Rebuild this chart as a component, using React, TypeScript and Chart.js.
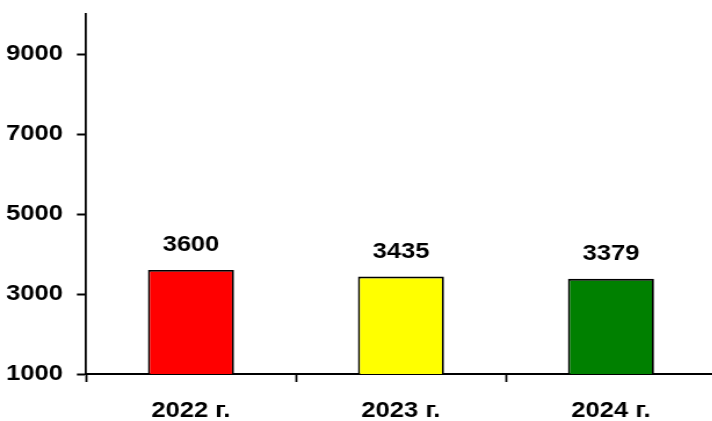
import React, { useEffect, useRef } from "react";
import { Chart, registerables } from "chart.js";
Chart.register(...registerables);

const categories = ["2022 г.", "2023 г.", "2024 г."];
const values = [3600, 3435, 3379];
const barColors = ["#FF0000", "#FFFF00", "#008000"];
const yTicks = [1000, 3000, 5000, 7000, 9000];
const yMin = 1000;
const yMax = 10000;

const SX = 1.16;
const FONT = "'Liberation Sans', Arial, sans-serif";
const FS = 22;
const W = 620;
const H = 421;

export default function App() {
  const ref = useRef<HTMLCanvasElement>(null);
  useEffect(() => {
    document.body.style.margin = "0";
    document.body.style.overflow = "hidden";
    const labelPlugin = {
      id: "valueLabels",
      afterDatasetsDraw(chart: any) {
        const ctx = chart.ctx;
        const meta = chart.getDatasetMeta(0);
        ctx.save();
        ctx.font = `bold ${FS}px ${FONT}`;
        ctx.fillStyle = "#000";
        ctx.textAlign = "center";
        ctx.textBaseline = "alphabetic";
        meta.data.forEach((bar: any, i: number) => {
          ctx.fillText(String(values[i]), bar.x, bar.y - 19);
        });
        ctx.restore();
      },
    };
    const chart = new Chart(ref.current as HTMLCanvasElement, {
      type: "bar",
      data: {
        labels: categories,
        datasets: [
          {
            data: values,
            backgroundColor: barColors,
            borderColor: "#000",
            borderWidth: 1.8,
            barPercentage: 0.41,
            categoryPercentage: 1,
          },
        ],
      },
      options: {
        responsive: false,
        animation: false,
        devicePixelRatio: 1,
        layout: { padding: { top: 14, right: 2.8, left: 0, bottom: 0 } },
        plugins: { legend: { display: false }, tooltip: { enabled: false } },
        scales: {
          x: {
            grid: {
              offset: true,
              drawOnChartArea: false,
              drawTicks: true,
              tickLength: 8,
              tickColor: "#000",
              tickWidth: 1.8,
            },
            border: { display: true, color: "#000", width: 2 },
            ticks: {
              color: "#000",
              font: { family: FONT, size: FS, weight: "bold" },
              padding: 16,
              maxRotation: 0,
            },
            afterFit: (s: any) => {
              s.height = 47;
              s.paddingLeft = 0;
              s.paddingRight = 0;
            },
          },
          y: {
            min: yMin,
            max: yMax,
            afterBuildTicks: (s: any) => {
              s.ticks = yTicks.map((v) => ({ value: v }));
            },
            grid: {
              drawOnChartArea: false,
              drawTicks: true,
              tickLength: 7.8,
              tickColor: "#000",
              tickWidth: 2,
            },
            border: { display: true, color: "#000", width: 1.8 },
            ticks: {
              color: "#000",
              font: { family: FONT, size: FS, weight: "bold" },
              padding: 12,
              callback: (v: any) => String(v),
            },
            afterFit: (s: any) => {
              s.width = 74.1;
              s.paddingTop = 0;
              s.paddingBottom = 0;
            },
          },
        },
      } as any,
      plugins: [labelPlugin],
    });
    return () => chart.destroy();
  }, []);
  return (
    <div
      style={{
        position: "fixed",
        left: 0,
        top: 0,
        width: 712,
        height: 421,
        overflow: "hidden",
        background: "#fff",
      }}
    >
      <div
        style={{
          width: W,
          height: H,
          transform: `scaleX(${SX})`,
          transformOrigin: "0 0",
        }}
      >
        <canvas ref={ref} width={W} height={H} />
      </div>
    </div>
  );
}
